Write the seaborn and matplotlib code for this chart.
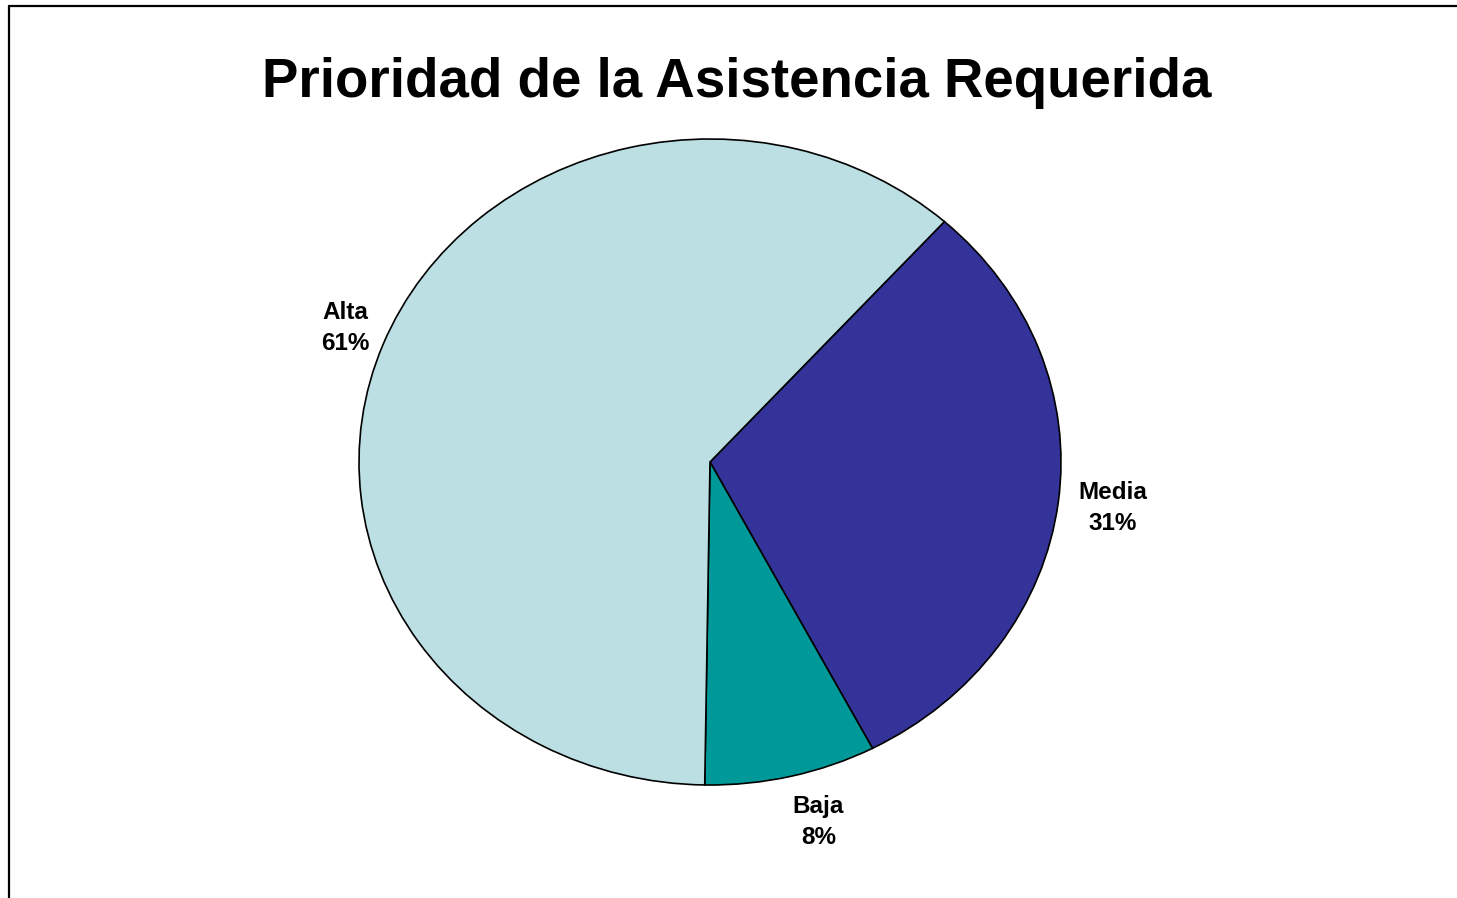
import matplotlib
matplotlib.use("Agg")
import matplotlib.pyplot as plt
import matplotlib.transforms as mtransforms
import seaborn as sns
from matplotlib.lines import Line2D

categories = ["Media", "Baja", "Alta"]
values = [30.7, 7.9, 61.4]
colors = ["#333399", "#009999", "#BBDFE3"]
title = "Prioridad de la Asistencia Requerida"

sns.set_theme(style="white")
plt.rcParams['font.family'] = ['Liberation Sans', 'DejaVu Sans']

W, H = 1457, 898
fig = plt.figure(figsize=(W / 100, H / 100), dpi=100)
fig.patch.set_facecolor("white")

ax = fig.add_axes([359 / W, 1 - 785 / H, 702 / W, 646 / H])
labels = [f"{c}\n{round(v)}%" for c, v in zip(categories, values)]
wedges, texts = ax.pie(values, labels=labels, colors=colors, startangle=48.1,
                       counterclock=False, labeldistance=1.14,
                       wedgeprops=dict(edgecolor="black", linewidth=1.2),
                       textprops=dict(fontsize=17.5, fontweight="bold", color="black",
                                      linespacing=1.42))
# small pixel nudges of label placement (Excel-style label positions)
nudges = [(6, 0), (16, -2), (8, 0)]
for t, (dx, dy) in zip(texts, nudges):
    t.set_ha("center")
    t.set_va("center")
    t.set_transform(mtransforms.offset_copy(ax.transData, fig=fig, x=dx, y=dy, units="dots"))
ax.set_aspect("auto")
ax.set_xlim(-1, 1)
ax.set_ylim(-1, 1)
ax.axis("off")

fig.text(737 / W, 1 - 97 / H, title, ha="center", va="baseline",
         fontsize=39.3, fontweight="bold", color="black")

# outer chart-area border (top and left edges visible)
fig.add_artist(Line2D([8.5 / W, 8.5 / W], [0, 1 - 6 / H], transform=fig.transFigure,
                      color="black", linewidth=1.6))
fig.add_artist(Line2D([8.5 / W, 1], [1 - 6 / H, 1 - 6 / H], transform=fig.transFigure,
                      color="black", linewidth=1.6))

fig.savefig("out.png", dpi=100, facecolor="white")
